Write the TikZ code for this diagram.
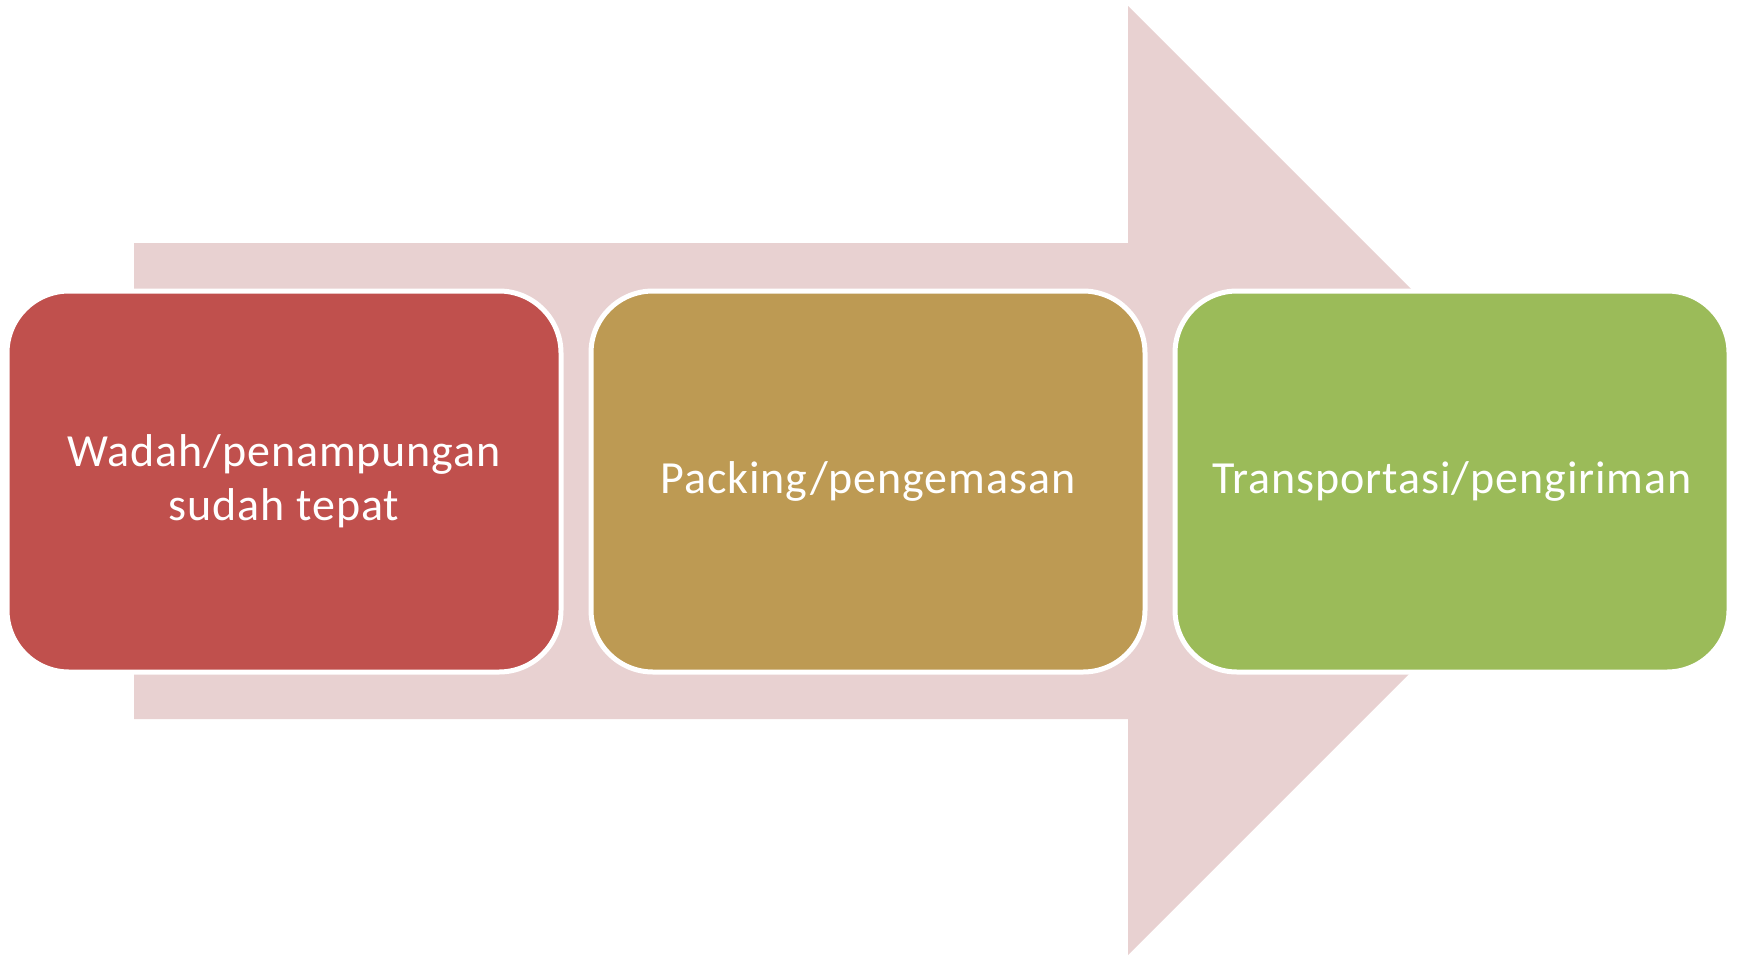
\documentclass[tikz,border=0pt]{standalone}
\usepackage{fontspec}
\setmainfont{Carlito}[LetterSpace=2.0]
\definecolor{arrowpink}{HTML}{E8D1D1}
\definecolor{boxred}{HTML}{C0504D}
\definecolor{boxtan}{HTML}{BD9A53}
\definecolor{boxgreen}{HTML}{9BBB59}
\begin{document}
\begin{tikzpicture}[x=1pt,y=-1pt,
  box/.style={rounded corners=62pt, draw=white, line width=5pt,
    minimum width=554pt, minimum height=381pt, inner sep=0pt,
    text=white, align=center, font=\fontsize{46}{54}\selectfont}]
\useasboundingbox (0,0) rectangle (1737,956);
\fill[arrowpink] (134,243) -- (1128,243) -- (1128,6) -- (1602.5,480.5)
  -- (1128,955) -- (1128,719) -- (134,719) -- cycle;
\node[box, fill=boxred] (wadah) at (284,481.5) {Wadah/penampungan\\sudah tepat};
\node[box, fill=boxtan] (packing) at (868,481.5) {Packing/pengemasan};
\node[box, fill=boxgreen] (transport) at (1452,481.5) {Transportasi/pengiriman};
\end{tikzpicture}
\end{document}
